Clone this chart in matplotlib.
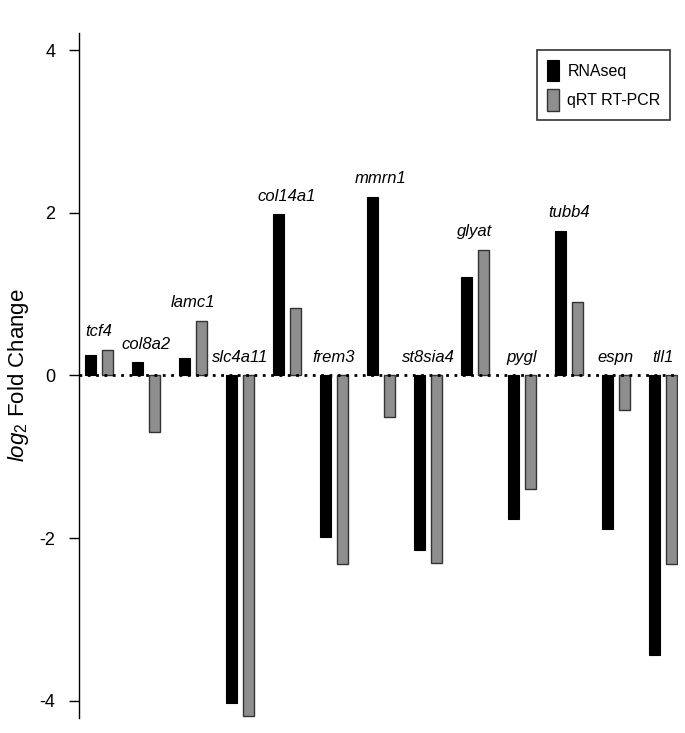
import matplotlib
matplotlib.use("Agg")
import matplotlib.pyplot as plt
import numpy as np

plt.rcParams['font.family'] = ['Liberation Sans', 'DejaVu Sans']
plt.rcParams['mathtext.fontset'] = 'custom'
plt.rcParams['mathtext.it'] = 'Liberation Sans:italic'
plt.rcParams['mathtext.rm'] = 'Liberation Sans'

# gene names and log2 fold changes
genes = ["tcf4", "col8a2", "lamc1", "slc4a11", "col14a1", "frem3", "mmrn1",
         "st8sia4", "glyat", "pygl", "tubb4", "espn", "tll1"]
rnaseq = [0.25, 0.16, 0.22, -4.02, 1.98, -1.99, 2.19,
          -2.15, 1.21, -1.76, 1.78, -1.89, -3.43]
qrtpcr = [0.31, -0.69, 0.67, -4.19, 0.83, -2.32, -0.51,
          -2.30, 1.54, -1.40, 0.90, -0.42, -2.32]
yticks = [-4, -2, 0, 2, 4]

fig = plt.figure(figsize=(6.85, 7.33), dpi=100)
ax = fig.add_axes([0.1153, 0.0205, 0.8745, 0.9345])

x = np.arange(len(genes))
w = 0.234
off = 0.18
ax.bar(x - off, rnaseq, w, color="black", edgecolor="black", linewidth=0.8,
       label="RNAseq", zorder=2)
ax.bar(x + off, qrtpcr, w, color="#8e8e8e", edgecolor="#333333", linewidth=1.0,
       label="qRT RT-PCR", zorder=2)

ax.axhline(0, color="black", linestyle=(0, (1, 2)), linewidth=2, zorder=3)

# gene labels above each group
for i, g in enumerate(genes):
    top = max(0, rnaseq[i], qrtpcr[i])
    ax.annotate(g, xy=(x[i], top), xytext=(0, 10), textcoords="offset points",
                ha="center", va="baseline", fontsize=12, style="italic")

ax.set_xlim(-0.43, 12.32)
ax.set_ylim(-4.21, 4.21)
ax.set_yticks(yticks)
ax.set_yticklabels([str(t) for t in yticks], fontsize=13)
ax.tick_params(axis="y", length=7, width=1, pad=10)
ax.set_xticks([])
for s in ["top", "right", "bottom"]:
    ax.spines[s].set_visible(False)
ax.spines["left"].set_linewidth(1)

ax.set_ylabel(r"$\mathit{log}_{\mathit{2}}$ Fold Change", fontsize=16, labelpad=6)

leg = ax.legend(loc="upper right", bbox_to_anchor=(0.987, 0.975), borderaxespad=0,
                fontsize=11.5, frameon=True, fancybox=False, edgecolor="black",
                handlelength=0.8, handleheight=1.7, borderpad=0.6,
                labelspacing=0.5, handletextpad=0.5)
leg.get_frame().set_linewidth(1.2)

fig.savefig("out.png", dpi=100)
